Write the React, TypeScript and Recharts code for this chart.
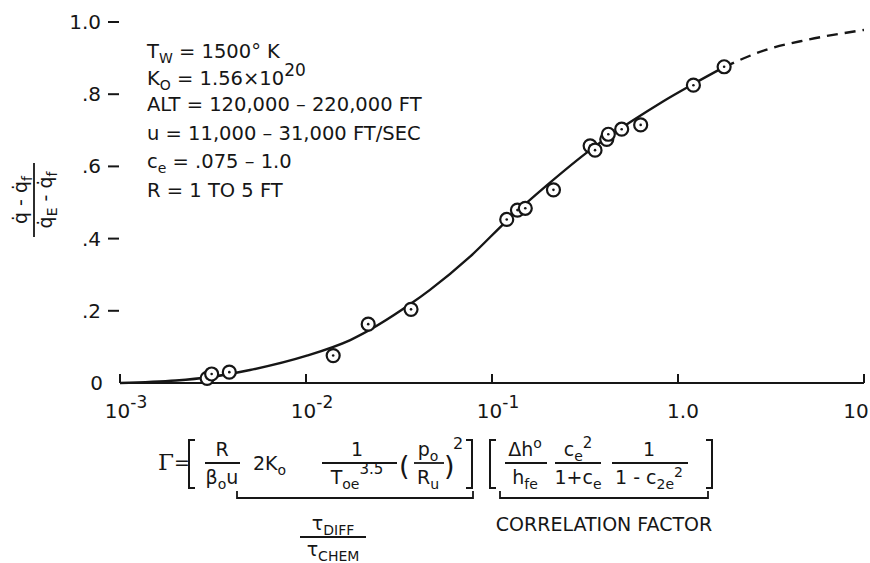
import { ComposedChart, Line, Scatter, XAxis, YAxis } from 'recharts';

// tick values and labels
const xTicks = [0.001, 0.01, 0.1, 1, 10];
const xTickBase = ['10', '10', '10', '1.0', '10'];
const xTickExp = ['-3', '-2', '-1', '', ''];
const yTicks = [0, 0.2, 0.4, 0.6, 0.8, 1.0];
const yTickLabels = ['0', '.2', '.4', '.6', '.8', '1.0'];

// measured points (Gamma, heat-transfer ratio)
const pointGamma = [0.00294, 0.00311, 0.00387, 0.014, 0.0216, 0.0367, 0.12, 0.137, 0.151, 0.214, 0.337, 0.358, 0.414, 0.422, 0.498, 0.63, 1.21, 1.77];
const pointRatio = [0.013, 0.025, 0.03, 0.076, 0.163, 0.204, 0.453, 0.479, 0.484, 0.535, 0.657, 0.645, 0.675, 0.689, 0.703, 0.715, 0.825, 0.876];

// faired curve, solid part and dashed extrapolation
const curveGamma = [0.001, 0.002, 0.003, 0.005, 0.01, 0.0173, 0.0367, 0.0464, 0.0762, 0.1205, 0.1977, 0.3365, 0.552, 0.83, 1.205, 1.766];
const curveRatio = [0, 0.007, 0.016, 0.036, 0.075, 0.119, 0.22, 0.258, 0.35, 0.45, 0.548, 0.645, 0.722, 0.78, 0.828, 0.875];
const dashGamma = [1.766, 2.94, 4.88, 10];
const dashRatio = [0.875, 0.922, 0.95, 0.978];

const points = pointGamma.map((g, i) => ({ gamma: g, ratio: pointRatio[i] }));
const solidCurve = curveGamma.map((g, i) => ({ gamma: g, ratio: curveRatio[i] }));
const dashCurve = dashGamma.map((g, i) => ({ gamma: g, ratio: dashRatio[i] }));

const INK = '#161616';
const FONT = '"DejaVu Sans", "Liberation Sans", sans-serif';

const Ring = (props: any) => {
  const { cx, cy } = props;
  return (
    <g>
      <circle cx={cx} cy={cy} r={6.5} fill="#fff" stroke={INK} strokeWidth={2.2} />
      <circle cx={cx} cy={cy} r={1.3} fill={INK} />
    </g>
  );
};

const XTick = (props: any) => {
  const { x, y, index } = props;
  const exp = xTickExp[index];
  const base = xTickBase[index];
  let tx = x;
  if (exp) tx = x + 6;
  if (index === 3) tx = x + 5;
  if (index === 4) tx = x - 8;
  return (
    <g>
      <line x1={x} y1={y} x2={x} y2={y - 9} stroke={INK} strokeWidth={2} />
      <text x={tx} y={y + 35} textAnchor="middle" fontSize={20} fill={INK} fontFamily={FONT}>
        {base}
        {exp ? <tspan dy={-10} fontSize={17}>{exp}</tspan> : null}
      </text>
    </g>
  );
};

const YTick = (props: any) => {
  const { y, index } = props;
  return (
    <g>
      <text x={index === 0 ? 103 : 101} y={y + 7} textAnchor="end" fontSize={20} fill={INK} fontFamily={FONT}>
        {yTickLabels[index]}
      </text>
      {index > 0 ? <line x1={108} y1={y} x2={119} y2={y} stroke={INK} strokeWidth={2} /> : null}
    </g>
  );
};

// small helper for stacked fractions in the formula
const Frac = ({ cx, x1, x2, top, bottom }: any) => (
  <g>
    <text x={cx} y={456} textAnchor="middle">{top}</text>
    <line x1={x1} y1={463} x2={x2} y2={463} stroke={INK} strokeWidth={1.8} />
    <text x={cx} y={484} textAnchor="middle">{bottom}</text>
  </g>
);

const Sub = ({ children }: any) => <tspan dy={5} fontSize={14}>{children}</tspan>;

function Annotations() {
  return (
    <svg width={870} height={563} style={{ position: 'absolute', left: 0, top: 0, pointerEvents: 'none' }}>
      <g fill={INK} fontFamily={FONT} fontSize={19}>
        {/* conditions block */}
        <g fontSize={19.5}>
          <text x={147} y={58}>T<tspan dy={5} fontSize={14}>W</tspan><tspan dy={-5}> = 1500° K</tspan></text>
          <text x={147} y={85}>K<tspan dy={5} fontSize={14}>O</tspan><tspan dy={-5}> = 1.56×10</tspan><tspan dy={-9} fontSize={17}>20</tspan></text>
          <text x={147} y={111}>ALT = 120,000 – 220,000 FT</text>
          <text x={147} y={140}>u  = 11,000 – 31,000 FT/SEC</text>
          <text x={147} y={168}>c<tspan dy={5} fontSize={14}>e</tspan><tspan dy={-5}> = .075 – 1.0</tspan></text>
          <text x={147} y={197}>R = 1 TO 5 FT</text>
        </g>

        {/* y axis title */}
        <g transform="translate(34,200) rotate(-90)">
          <text x={0} y={-7} textAnchor="middle">q̇ - q̇<tspan dy={5} fontSize={14}>f</tspan></text>
          <line x1={-37} y1={0} x2={37} y2={0} stroke={INK} strokeWidth={1.8} />
          <text x={0} y={18} textAnchor="middle">q̇<tspan dy={5} fontSize={14}>E</tspan><tspan dy={-5}> - q̇</tspan><tspan dy={5} fontSize={14}>f</tspan></text>
        </g>

        {/* Gamma definition */}
        <text x={158} y={470} fontSize={23} fontFamily='"DejaVu Serif", serif'>Γ</text>
        <text x={174} y={469}>=</text>
        <path d="M195 440 H189 V488 H195" fill="none" stroke={INK} strokeWidth={2} />
        <Frac cx={222} x1={205} x2={240} top="R" bottom={<>β<Sub>o</Sub><tspan dy={-5}>u</tspan></>} />
        <text x={253} y={470}>2K<Sub>o</Sub></text>
        <Frac cx={357} x1={322} x2={397} top="1" bottom={<>T<Sub>oe</Sub><tspan dy={-15} fontSize={15}>3.5</tspan></>} />
        <text x={399} y={475} fontSize={27}>(</text>
        <Frac cx={428} x1={414} x2={444} top={<>p<Sub>o</Sub></>} bottom={<>R<Sub>u</Sub></>} />
        <text x={444} y={475} fontSize={27}>)</text>
        <text x={453} y={449} fontSize={16}>2</text>
        <path d="M466 440 H472 V488 H466" fill="none" stroke={INK} strokeWidth={2} />

        <path d="M496 440 H490 V488 H496" fill="none" stroke={INK} strokeWidth={2} />
        <Frac cx={525} x1={505} x2={547} top={<>Δh<tspan dy={-8} fontSize={14}>o</tspan></>} bottom={<>h<Sub>fe</Sub></>} />
        <Frac cx={578} x1={555} x2={601} top={<>c<Sub>e</Sub><tspan dy={-13} fontSize={15}>2</tspan></>} bottom={<>1+c<Sub>e</Sub></>} />
        <Frac cx={649} x1={612} x2={688} top="1" bottom={<>1 - c<Sub>2e</Sub><tspan dy={-12} fontSize={14}>2</tspan></>} />
        <path d="M706 440 H712 V488 H706" fill="none" stroke={INK} strokeWidth={2} />

        {/* under-brackets */}
        <path d="M237 491 V498 H473 V491" fill="none" stroke={INK} strokeWidth={1.8} />
        <path d="M500 491 V498 H708 V491" fill="none" stroke={INK} strokeWidth={1.8} />
        <text x={333} y={530} textAnchor="middle">τ<Sub>DIFF</Sub></text>
        <line x1={300} y1={537} x2={366} y2={537} stroke={INK} strokeWidth={1.8} />
        <text x={333} y={556} textAnchor="middle">τ<Sub>CHEM</Sub></text>
        <text x={604} y={531} textAnchor="middle">CORRELATION FACTOR</text>
      </g>
    </svg>
  );
}

export default function App() {
  return (
    <div style={{ position: 'absolute', left: 0, top: 0, width: 870, height: 563, background: '#fff' }}>
      <ComposedChart width={870} height={563} margin={{ top: 22, right: 6, bottom: 140, left: 60 }}>
        <XAxis
          dataKey="gamma"
          type="number"
          scale="log"
          domain={[0.001, 10]}
          allowDataOverflow
          ticks={xTicks}
          height={40}
          tickSize={0}
          tickMargin={0}
          tickLine={false}
          axisLine={{ stroke: INK, strokeWidth: 2 }}
          tick={<XTick />}
          interval={0}
        />
        <YAxis
          type="number"
          domain={[0, 1]}
          ticks={yTicks}
          width={60}
          tickSize={0}
          tickMargin={0}
          axisLine={false}
          tickLine={false}
          tick={<YTick />}
          interval={0}
        />
        <Line data={solidCurve} dataKey="ratio" type="monotone" stroke={INK} strokeWidth={2.4} dot={false} isAnimationActive={false} />
        <Line data={dashCurve} dataKey="ratio" type="monotone" stroke={INK} strokeWidth={2.4} strokeDasharray="11 7" dot={false} isAnimationActive={false} />
        <Scatter data={points} dataKey="ratio" shape={<Ring />} isAnimationActive={false} />
      </ComposedChart>
      <Annotations />
    </div>
  );
}
